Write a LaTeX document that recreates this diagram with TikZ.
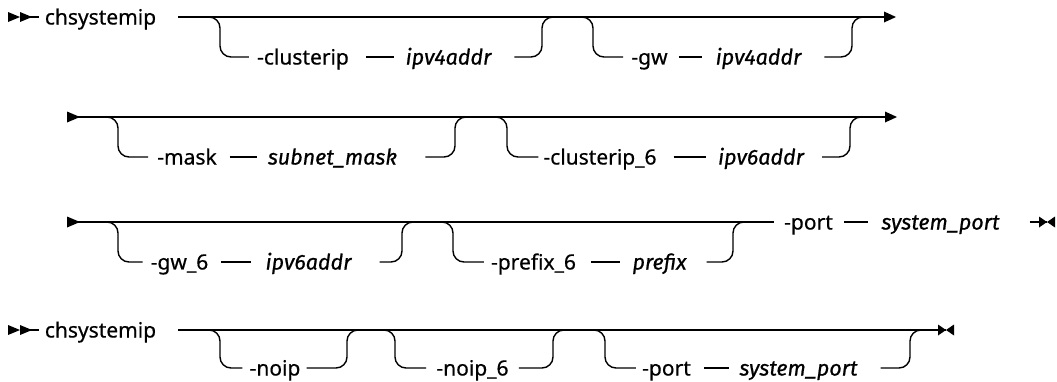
\documentclass[tikz,border=0pt]{standalone}
\usepackage{fontspec}
\setmainfont{Noto Sans}
\newfontfamily\kwfont{Noto Sans}[FakeBold=0.5]
\newfontfamily\varfont{Fira Sans}[FakeBold=0.7]
\usetikzlibrary{calc}
\begin{document}
\begin{tikzpicture}[x=1pt,y=-1pt,
  kw/.style={font=\kwfont\fontsize{21}{24}\selectfont, inner sep=0pt, text height=15pt, text depth=0pt},
  var/.style={font=\varfont\itshape\fontsize{21.5}{24}\selectfont, inner sep=0pt, text height=15pt, text depth=0pt},
  conn/.style={line width=1.4pt, rounded corners=11pt},
  tipfill/.style={fill=black, draw=none}
]
\useasboundingbox (0,0) rectangle (1057,381);

% ---------- Row 1 ----------
\coordinate (st1) at (8,17);
\node[kw] (c1) at (100.5,17) {chsystemip};
\coordinate (m1s) at (178,17);
\coordinate (m1e) at (884,17);
\node[kw]  (k1a) at (303,57) {-clusterip};
\node[var] (v1a) at (448.5,57) {ipv4addr};
\node[kw]  (k1b) at (649.5,57) {-gw};
\node[var] (v1b) at (758.5,57) {ipv4addr};

\fill[tipfill] (st1) -- ++(0,-5) -- ++(12,5) -- ++(-12,5) -- cycle;
\fill[tipfill] ($(st1)+(12,0)$) -- ++(0,-5) -- ++(12,5) -- ++(-12,5) -- cycle;
\draw[conn, shorten >=6pt] ($(st1)+(20,0)$) -- (c1.west);
\draw[conn] (m1s) -- (m1e);
\fill[tipfill] (m1e) -- ++(0,-5.5) -- ++(12,5.5) -- ++(-12,5.5) -- cycle;

\draw[conn, shorten >=8pt] (207,17) -- (220,17) -- (220,57) -- (k1a.west);
\draw[conn, shorten <=17pt, shorten >=12pt] (k1a.east) -- (v1a.west);
\draw[conn, shorten <=23pt] (v1a.east) -- (542,57) -- (542,17) -- (556,17);
\draw[conn, shorten >=8pt] (580,17) -- (593,17) -- (593,57) -- (k1b.west);
\draw[conn, shorten <=11pt, shorten >=14pt] (k1b.east) -- (v1b.west);
\draw[conn, shorten <=23pt] (v1b.east) -- (852,57) -- (852,17) -- (866,17);

% ---------- Row 2 ----------
\coordinate (st2) at (67,117);
\coordinate (m2e) at (885,117);
\node[kw]  (k2a) at (187,157) {-mask};
\node[var] (v2a) at (332.5,157) {subnet\_mask};
\node[kw]  (k2b) at (600,157) {-clusterip\_6};
\node[var] (v2b) at (761,157) {ipv6addr};

\fill[tipfill] (st2) -- ++(0,-5.5) -- ++(13,5.5) -- ++(-13,5.5) -- cycle;
\draw[conn] (st2) -- (m2e);
\fill[tipfill] (m2e) -- ++(0,-5.5) -- ++(12,5.5) -- ++(-12,5.5) -- cycle;

\draw[conn, shorten >=9pt] (105,117) -- (118,117) -- (118,157) -- (k2a.west);
\draw[conn, shorten <=13pt, shorten >=11pt] (k2a.east) -- (v2a.west);
\draw[conn, shorten <=28pt] (v2a.east) -- (455,157) -- (455,117) -- (468,117);
\draw[conn, shorten >=5pt] (494,117) -- (507,117) -- (507,157) -- (k2b.west);
\draw[conn, shorten <=17pt, shorten >=12pt] (k2b.east) -- (v2b.west);
\draw[conn, shorten <=18pt] (v2b.east) -- (850,157) -- (850,117) -- (863,117);

% ---------- Row 3 ----------
\coordinate (st3) at (67,222);
\coordinate (e3) at (1047,222);
\node[kw]  (k3a) at (179.5,262) {-gw\_6};
\node[var] (v3a) at (308.5,262) {ipv6addr};
\node[kw]  (k3b) at (533.5,262) {-prefix\_6};
\node[var] (v3b) at (659.5,262) {prefix};
\node[kw]  (k3c) at (808.5,222) {-port};
\node[var] (v3c) at (940.5,222) {system\_port};

\fill[tipfill] (st3) -- ++(0,-5.5) -- ++(13,5.5) -- ++(-13,5.5) -- cycle;
\draw[conn, shorten >=10pt] (st3) -- (k3c.west);
\draw[conn, shorten <=11pt, shorten >=13pt] (k3c.east) -- (v3c.west);
\draw[conn, shorten <=30pt] (v3c.east) -- (e3);
\fill[tipfill] (e3) -- ++(-8,-5.5) -- ++(0,11) -- cycle;
\fill[tipfill] (e3) -- ++(8,-5.5) -- ++(0,11) -- cycle;

\draw[conn, shorten >=8pt] (105,222) -- (118,222) -- (118,262) -- (k3a.west);
\draw[conn, shorten <=13pt, shorten >=14pt] (k3a.east) -- (v3a.west);
\draw[conn, shorten <=28pt] (v3a.east) -- (402,262) -- (402,222) -- (415,222);
\draw[conn, shorten >=7pt] (440,222) -- (453,222) -- (453,262) -- (k3b.west);
\draw[conn, shorten <=15pt, shorten >=12pt] (k3b.east) -- (v3b.west);
\draw[conn, shorten <=20pt] (v3b.east) -- (733,262) -- (733,222) -- (746,222);

% ---------- Row 4 ----------
\coordinate (st4) at (8,330);
\node[kw] (c4) at (100.5,330) {chsystemip};
\coordinate (m4s) at (178,330);
\coordinate (e4) at (946,330);
\node[kw]  (k4a) at (275,368) {-noip};
\node[kw]  (k4b) at (472.5,368) {-noip\_6};
\node[kw]  (k4c) at (666.5,368) {-port};
\node[var] (v4c) at (798.5,368) {system\_port};

\fill[tipfill] (st4) -- ++(0,-5) -- ++(12,5) -- ++(-12,5) -- cycle;
\fill[tipfill] ($(st4)+(12,0)$) -- ++(0,-5) -- ++(12,5) -- ++(-12,5) -- cycle;
\draw[conn, shorten >=6pt] ($(st4)+(20,0)$) -- (c4.west);
\draw[conn] (m4s) -- (e4);
\fill[tipfill] (e4) -- ++(-8,-5.5) -- ++(0,11) -- cycle;
\fill[tipfill] (e4) -- ++(8,-5.5) -- ++(0,11) -- cycle;

\draw[conn, shorten >=7pt] (207,330) -- (220,330) -- (220,368) -- (k4a.west);
\draw[conn, shorten <=6pt] (k4a.east) -- (347,368) -- (347,330) -- (360,330);
\draw[conn, shorten >=10pt] (382,330) -- (395,330) -- (395,368) -- (k4b.west);
\draw[conn, shorten <=10pt] (k4b.east) -- (553,368) -- (553,330) -- (566,330);
\draw[conn, shorten >=6pt] (592,330) -- (605,330) -- (605,368) -- (k4c.west);
\draw[conn, shorten <=13pt, shorten >=10pt] (k4c.east) -- (v4c.west);
\draw[conn, shorten <=23pt] (v4c.east) -- (910,368) -- (910,330) -- (923,330);
\end{tikzpicture}
\end{document}
